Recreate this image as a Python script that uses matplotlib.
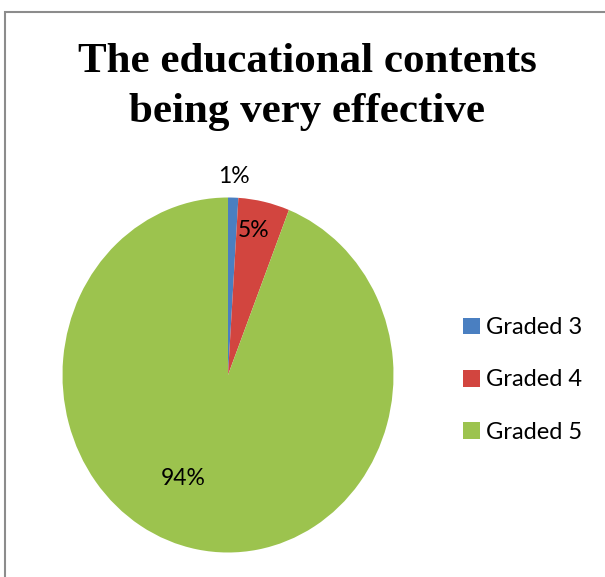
import numpy as np
import matplotlib
matplotlib.use('Agg')
import matplotlib.pyplot as plt
from matplotlib.patches import Rectangle

# data
categories = ['Graded 3', 'Graded 4', 'Graded 5']
values = [1, 5, 94]
colors = ['#4a7fc1', '#d2453f', '#9cc34e']

# label placement (fraction of radius, angle tweak in degrees)
label_dist = [1.12, 0.83, 0.64]
label_shift = [0, 2, -14]

W, H = 605, 577
fig = plt.figure(figsize=(W / 100, H / 100), dpi=100)
fig.patch.set_facecolor('white')

# gray outer frame
fig.patches.append(Rectangle((5 / W, -0.01), 1.1, 1 - 12 / H + 0.01,
                             transform=fig.transFigure, fill=False,
                             edgecolor='#8c8c8c', linewidth=1.5))

fig.text(307 / W, 1 - 87 / H, 'The educational contents\nbeing very effective',
         ha='center', va='center', fontsize=31, fontweight='bold',
         family='Liberation Serif', linespacing=1.38)

# pie axes (slightly taller than wide, as in the reference)
cx, cy, rx, ry = 228, 375, 165.5, 177.5
ax = fig.add_axes([(cx - rx) / W, 1 - (cy + ry) / H, 2 * rx / W, 2 * ry / H])
wedges, _ = ax.pie(values, colors=colors, startangle=90, counterclock=False,
                   wedgeprops=dict(edgecolor='none'))
ax.set_aspect('auto')
ax.set_xlim(-1, 1)
ax.set_ylim(-1, 1)

total = sum(values)
for w, v, d, s in zip(wedges, values, label_dist, label_shift):
    ang = np.deg2rad((w.theta1 + w.theta2) / 2 + s)
    ax.text(d * np.cos(ang), d * np.sin(ang), f'{v / total:.0%}',
            ha='center', va='center', fontsize=16.5, family='Lato')

leg = fig.legend(wedges, categories, loc='center left',
                 bbox_to_anchor=(442 / W, 1 - 380 / H), frameon=False,
                 prop={'family': 'Lato', 'size': 17},
                 handlelength=0.7, handleheight=0.7, handletextpad=0.25,
                 labelspacing=1.32)

fig.savefig('out.png', dpi=100, facecolor='white')
